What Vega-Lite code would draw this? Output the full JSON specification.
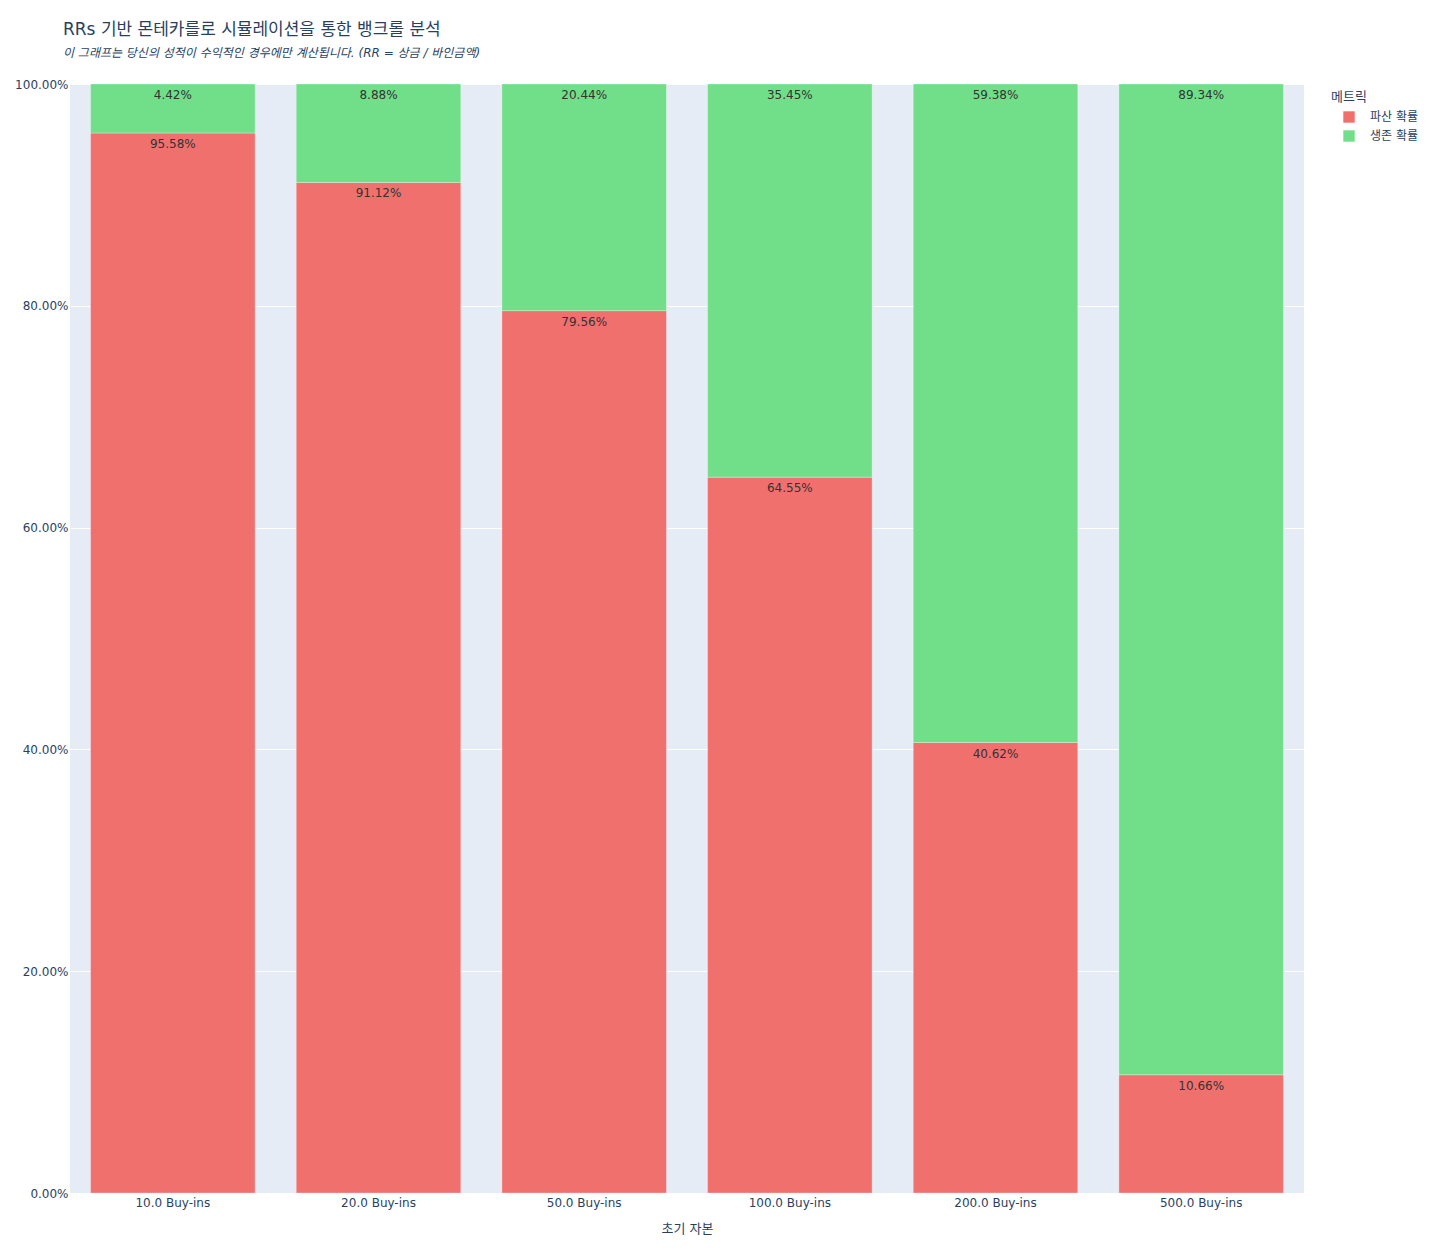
{
  "$schema": "https://vega.github.io/schema/vega-lite/v6.json",
  "width": 1234,
  "height": 1109,
  "autosize": {"type": "none"},
  "padding": {"left": 70, "top": 84, "right": 127, "bottom": 61},
  "background": "white",
  "title": {
    "text": "RRs 기반 몬테카를로 시뮬레이션을 통한 뱅크롤 분석",
    "subtitle": "이 그래프는 당신의 성적이 수익적인 경우에만 계산됩니다. (RR = 상금 / 바인금액)",
    "anchor": "start",
    "frame": "group",
    "dx": -7,
    "offset": 18,
    "font": "DejaVu Sans, Noto Sans CJK KR",
    "fontSize": 17,
    "fontWeight": "normal",
    "color": "#2a3f5f",
    "subtitleFont": "DejaVu Sans, Noto Sans CJK KR",
    "subtitleFontSize": 12,
    "subtitleFontStyle": "italic",
    "subtitleColor": "#2a3f5f",
    "subtitlePadding": 9
  },
  "config": {
    "view": {"fill": "#E5ECF6", "stroke": null},
    "font": "DejaVu Sans, Noto Sans CJK KR"
  },
  "data": {
    "values": [
      {"capital": "10.0 Buy-ins", "metric": "파산 확률", "value": 0.9558, "ord": 0},
      {"capital": "10.0 Buy-ins", "metric": "생존 확률", "value": 0.0442, "ord": 1},
      {"capital": "20.0 Buy-ins", "metric": "파산 확률", "value": 0.9112, "ord": 0},
      {"capital": "20.0 Buy-ins", "metric": "생존 확률", "value": 0.0888, "ord": 1},
      {"capital": "50.0 Buy-ins", "metric": "파산 확률", "value": 0.7956, "ord": 0},
      {"capital": "50.0 Buy-ins", "metric": "생존 확률", "value": 0.2044, "ord": 1},
      {"capital": "100.0 Buy-ins", "metric": "파산 확률", "value": 0.6455, "ord": 0},
      {"capital": "100.0 Buy-ins", "metric": "생존 확률", "value": 0.3545, "ord": 1},
      {"capital": "200.0 Buy-ins", "metric": "파산 확률", "value": 0.4062, "ord": 0},
      {"capital": "200.0 Buy-ins", "metric": "생존 확률", "value": 0.5938, "ord": 1},
      {"capital": "500.0 Buy-ins", "metric": "파산 확률", "value": 0.1066, "ord": 0},
      {"capital": "500.0 Buy-ins", "metric": "생존 확률", "value": 0.8934, "ord": 1}
    ]
  },
  "encoding": {
    "x": {
      "field": "capital",
      "type": "nominal",
      "sort": null,
      "scale": {"paddingInner": 0.2, "paddingOuter": 0.1},
      "axis": {
        "title": "초기 자본",
        "labelAngle": 0,
        "labelFontSize": 12,
        "labelColor": "#2a3f5f",
        "labelPadding": 4,
        "titleFontSize": 13,
        "titleFontWeight": "normal",
        "titleColor": "#2a3f5f",
        "titlePadding": 14,
        "domain": false,
        "ticks": false,
        "grid": false
      }
    }
  },
  "layer": [
    {
      "mark": {"type": "bar", "stroke": "#ffffff", "strokeWidth": 0.5, "strokeOpacity": 0.6},
      "encoding": {
        "y": {
          "field": "value",
          "type": "quantitative",
          "stack": "zero",
          "scale": {"domain": [0, 1], "nice": false},
          "axis": {
            "title": null,
            "format": ".2%",
            "values": [0, 0.2, 0.4, 0.6, 0.8, 1],
            "labelOverlap": false,
            "labelFontSize": 12,
            "labelColor": "#2a3f5f",
            "labelPadding": 2,
            "domain": false,
            "ticks": false,
            "grid": true,
            "gridColor": "#ffffff",
            "gridWidth": 1
          }
        },
        "color": {
          "field": "metric",
          "type": "nominal",
          "sort": ["파산 확률", "생존 확률"],
          "scale": {"domain": ["파산 확률", "생존 확률"], "range": ["#F0706E", "#71DE8A"]},
          "legend": {
            "title": "메트릭",
            "orient": "none",
            "legendX": 1261,
            "legendY": 7,
            "titleFontSize": 13,
            "titleFontWeight": "normal",
            "titleColor": "#2a3f5f",
            "labelFontSize": 12,
            "labelColor": "#2a3f5f",
            "symbolType": "square",
            "symbolSize": 130,
            "symbolStrokeWidth": 0,
            "symbolOffset": 12,
            "labelOffset": 15,
            "rowPadding": 7,
            "titlePadding": 7,
            "padding": 0
          }
        },
        "order": {"field": "ord", "type": "quantitative"}
      }
    },
    {
      "transform": [
        {"stack": "value", "groupby": ["capital"], "sort": [{"field": "ord"}], "as": ["v0", "v1"]}
      ],
      "mark": {"type": "text", "baseline": "top", "dy": 6, "fontSize": 12, "color": "#333333"},
      "encoding": {
        "y": {"field": "v1", "type": "quantitative"},
        "text": {"field": "value", "type": "quantitative", "format": ".2%"}
      }
    }
  ]
}
